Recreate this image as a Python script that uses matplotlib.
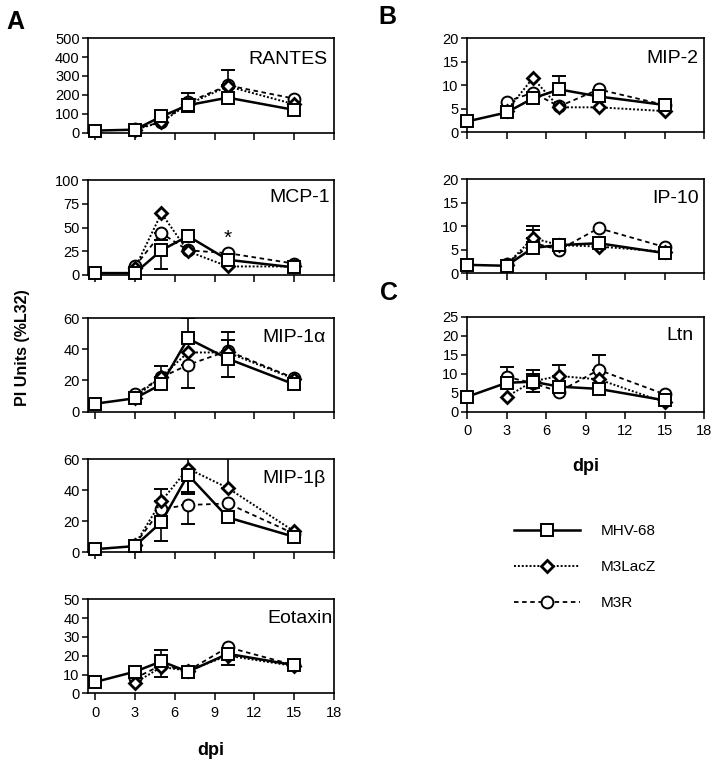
import matplotlib
matplotlib.use('Agg')
import matplotlib.pyplot as plt
from matplotlib.lines import Line2D

plt.rcParams['font.family'] = ['Liberation Sans', 'DejaVu Sans']

W, H = 715, 763
fig = plt.figure(figsize=(W / 100, H / 100), dpi=100)

# ---------------- data ----------------
dpi_all = [0, 3, 5, 7, 10, 15]
dpi_mut = [3, 5, 7, 10, 15]
series_names = ["MHV-68", "M3LacZ", "M3R"]
x_ticks = [0, 3, 6, 9, 12, 15, 18]

rantes_mhv = [10, 15, 85, 145, 185, 120]
rantes_lacz = [15, 55, 150, 245, 150]
rantes_m3r = [20, 55, 160, 250, 180]
rantes_err = [("MHV-68", 7, 110, 145), ("M3R", 7, 160, 210), ("M3R", 10, 250, 330)]

mcp1_mhv = [2, 2, 26, 41, 16, 8]
mcp1_lacz = [7, 65, 25, 9, 9]
mcp1_m3r = [9, 44, 26, 23, 12]
mcp1_err = [("MHV-68", 5, 6, 26), ("M3R", 5, 37, 44)]

mip1a_mhv = [5, 8.5, 17.5, 47, 34, 17.5]
mip1a_lacz = [9, 22.5, 38, 38, 21]
mip1a_m3r = [11, 22, 30, 39, 21.5]
mip1a_err = [("M3LacZ", 5, 22.5, 29.6), ("MHV-68", 7, 47, 60), ("M3R", 7, 15, 30),
             ("M3R", 10, 39, 51), ("M3LacZ", 10, 38, 46), ("MHV-68", 10, 22, 34)]

mip1b_mhv = [2, 4, 19.5, 50, 22.5, 10]
mip1b_lacz = [5, 33, 54, 41.5, 13.5]
mip1b_m3r = [5, 28, 30.5, 31.5, 12]
mip1b_err = [("M3LacZ", 5, 33, 41), ("MHV-68", 5, 7, 19.5), ("MHV-68", 7, 39, 65),
             ("M3LacZ", 7, 37.5, 54), ("M3R", 7, 18, 30.5), ("M3LacZ", 10, 41.5, 65)]

eotaxin_mhv = [6, 11.5, 17, 11.5, 21, 15]
eotaxin_lacz = [5.5, 14, 12, 20, 14.5]
eotaxin_m3r = [8, 15, 12, 24.5, 15]
eotaxin_err = [("MHV-68", 5, 17, 23), ("M3LacZ", 5, 8.5, 14), ("MHV-68", 10, 15, 21)]

mip2_mhv = [2.3, 4.2, 7.2, 9.1, 7.6, 5.8]
mip2_lacz = [4.5, 11.5, 5.3, 5.3, 4.5]
mip2_m3r = [6.5, 8.4, 5.5, 9.1, 5.8]
mip2_err = [("MHV-68", 7, 9.1, 12)]

ip10_mhv = [1.8, 1.6, 5.4, 6.0, 6.4, 4.3]
ip10_lacz = [1.8, 7.5, 6.0, 5.7, 4.6]
ip10_m3r = [2.0, 6.5, 5.0, 9.6, 5.6]
ip10_err = [("M3LacZ", 5, 7.5, 10), ("M3R", 5, 6.5, 9.3)]

ltn_mhv = [3.9, 7.6, 7.9, 6.6, 6.0, 3.0]
ltn_lacz = [3.9, 8.0, 9.4, 8.5, 2.5]
ltn_m3r = [9.2, 7.5, 5.3, 11.0, 4.6]
ltn_err = [("M3R", 3, 9.2, 11.8), ("MHV-68", 5, 5.3, 11), ("M3LacZ", 5, 8.0, 10),
           ("M3LacZ", 7, 9.4, 12.3), ("M3R", 10, 11.0, 14.9)]

# ---------------- styles ----------------
styles = {
    "MHV-68": dict(ls='-', lw=1.8, marker='s', ms=9, mew=1.4, zorder=5),
    "M3LacZ": dict(ls=(0, (1, 1)), lw=1.4, marker='D', ms=6.5, mew=2.0, zorder=4),
    "M3R": dict(ls=(0, (2.5, 2)), lw=1.3, marker='o', ms=8.5, mew=1.4, zorder=3),
}


def add_ax(left, top, right, bottom):
    return fig.add_axes([left / W, 1 - bottom / H, (right - left) / W, (bottom - top) / H])


def draw_panel(ax, name, mhv, lacz, m3r, errs, ymax, yticks, xlim, show_xlabels,
               name_pad_px=7, name_y=0.80):
    vals = {"MHV-68": (dpi_all, mhv), "M3LacZ": (dpi_mut, lacz), "M3R": (dpi_mut, m3r)}
    for s in ["M3R", "M3LacZ", "MHV-68"]:
        st = styles[s]
        xs, ys = vals[s]
        ax.plot(xs, ys, color='black', ls=st['ls'], lw=st['lw'], marker=st['marker'],
                ms=st['ms'], mew=st['mew'], mfc='white', mec='black',
                zorder=st['zorder'], clip_on=False)
    for s, d, lo, hi in errs:
        xs, ys = vals[s]
        y = ys[xs.index(d)]
        hi_c = min(hi, ymax)
        ax.errorbar([d], [y], yerr=[[y - lo], [hi_c - y]], fmt='none', ecolor='black',
                    elinewidth=1.2, capsize=5 if hi <= ymax else 0, capthick=1.4, zorder=2)
        if hi > ymax:
            ax.errorbar([d], [y], yerr=[[y - lo], [0]], fmt='none', ecolor='black',
                        elinewidth=1.2, capsize=5, capthick=1.4, zorder=2)
    ax.set_xlim(*xlim)
    ax.set_ylim(0, ymax)
    ax.set_xticks(x_ticks)
    ax.set_yticks(yticks)
    ax.tick_params(axis='both', direction='out', width=1.1, labelsize=10.5, color='black')
    ax.tick_params(axis='x', length=5, pad=4)
    ax.tick_params(axis='y', length=4.5, pad=1.5)
    if not show_xlabels:
        ax.set_xticklabels([])
    for sp in ax.spines.values():
        sp.set_linewidth(1.2)
    bbox = ax.get_position()
    xfrac = 1 - name_pad_px / (bbox.width * W)
    ax.text(xfrac, name_y, name, transform=ax.transAxes, ha='right', va='center', fontsize=14)


A_L, A_R = 88, 334
B_L, B_R = 467, 704
xlimA = (-0.53, 18)
xlimB = (0, 18)

ax = add_ax(A_L, 38.3, A_R, 132.5)
draw_panel(ax, "RANTES", rantes_mhv, rantes_lacz, rantes_m3r, rantes_err, 500,
           [0, 100, 200, 300, 400, 500], xlimA, False, 7, 0.78)

ax = add_ax(A_L, 180, A_R, 275)
draw_panel(ax, "MCP-1", mcp1_mhv, mcp1_lacz, mcp1_m3r, mcp1_err, 100,
           [0, 25, 50, 75, 100], xlimA, False, 4, 0.82)
ax.text(10, 39, "*", ha='center', va='center', fontsize=15)

ax = add_ax(A_L, 318.3, A_R, 411.5)
draw_panel(ax, "MIP-1\u03b1", mip1a_mhv, mip1a_lacz, mip1a_m3r, mip1a_err, 60,
           [0, 20, 40, 60], xlimA, False, 8, 0.79)

ax = add_ax(A_L, 459.3, A_R, 552.3)
draw_panel(ax, "MIP-1\u03b2", mip1b_mhv, mip1b_lacz, mip1b_m3r, mip1b_err, 60,
           [0, 20, 40, 60], xlimA, False, 8, 0.79)

ax = add_ax(A_L, 599.3, A_R, 693.3)
draw_panel(ax, "Eotaxin", eotaxin_mhv, eotaxin_lacz, eotaxin_m3r, eotaxin_err, 50,
           [0, 10, 20, 30, 40, 50], xlimA, True, 1, 0.80)
ax.set_xlabel("dpi", fontsize=13, fontweight='bold', labelpad=16)

ax = add_ax(B_L, 38, B_R, 132.3)
draw_panel(ax, "MIP-2", mip2_mhv, mip2_lacz, mip2_m3r, mip2_err, 20,
           [0, 5, 10, 15, 20], xlimB, False, 6, 0.78)

ax = add_ax(B_L, 179.3, B_R, 273.3)
draw_panel(ax, "IP-10", ip10_mhv, ip10_lacz, ip10_m3r, ip10_err, 20,
           [0, 5, 10, 15, 20], xlimB, False, 5, 0.80)

ax = add_ax(B_L, 316.7, B_R, 411.7)
draw_panel(ax, "Ltn", ltn_mhv, ltn_lacz, ltn_m3r, ltn_err, 25,
           [0, 5, 10, 15, 20, 25], xlimB, True, 10, 0.80)
ax.set_xlabel("dpi", fontsize=13, fontweight='bold', labelpad=14)

# panel letters
fig.text(6 / W, 1 - 22 / H, "A", fontsize=18, fontweight='bold', ha='left', va='center')
fig.text(378 / W, 1 - 17 / H, "B", fontsize=18, fontweight='bold', ha='left', va='center')
fig.text(380 / W, 1 - 293 / H, "C", fontsize=18, fontweight='bold', ha='left', va='center')

# y label
fig.text(23 / W, 1 - 348 / H, "PI Units (%L32)", rotation=90, fontsize=11.5,
         fontweight='bold', ha='center', va='center')

# legend
handles = []
for s in series_names:
    st = styles[s]
    handles.append(Line2D([], [], color='black', ls=st['ls'], lw=st['lw'], marker=st['marker'],
                          ms=st['ms'], mew=st['mew'], mfc='white', mec='black'))
fig.legend(handles, series_names, loc='upper left', bbox_to_anchor=(514 / W, 1 - 524 / H),
           frameon=False, fontsize=11, handlelength=4.3, handletextpad=1.4,
           labelspacing=1.45, borderpad=0, borderaxespad=0)

fig.savefig("out.png", dpi=100)
